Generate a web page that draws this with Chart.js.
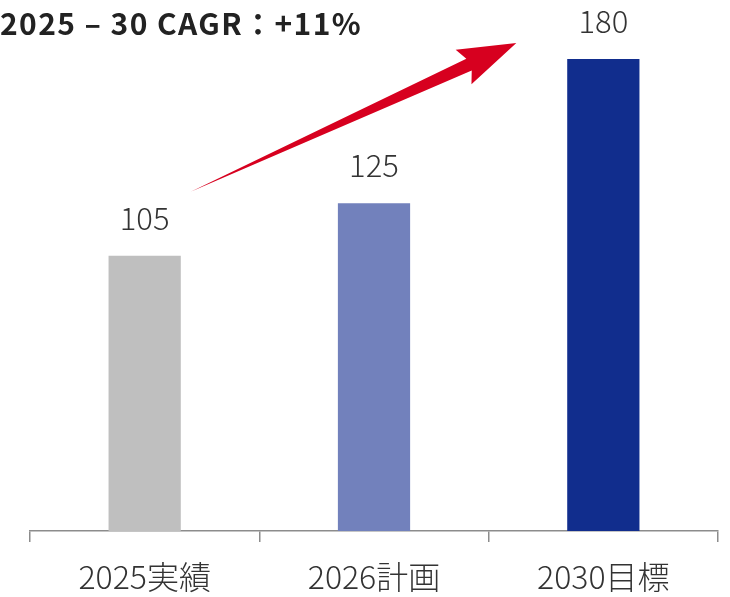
<!DOCTYPE html>
<html>
<head>
<meta charset="utf-8">
<script src="https://cdn.jsdelivr.net/npm/chart.js@4/dist/chart.umd.min.js"></script>
<style>
  html, body { margin: 0; padding: 0; background: #fff; }
  canvas { display: block; }
</style>
</head>
<body>
<canvas id="cagrChart" width="730" height="597"></canvas>
<script>
// data
const categories = ["2025実績", "2026計画", "2030目標"];
const values = [105, 125, 180];
const barColors = ["#BFBFBF", "#7281BC", "#112D8D"];
const titleText = "2025 – 30 CAGR：+11%";

const FONT = "'Noto Sans CJK JP', 'Noto Sans', sans-serif";

// value labels above bars
const valueLabels = {
    id: "valueLabels",
    afterDatasetsDraw(chart) {
        const ctx = chart.ctx;
        const meta = chart.getDatasetMeta(0);
        ctx.save();
        ctx.font = "300 31px " + FONT;
        ctx.fillStyle = "#333333";
        ctx.textAlign = "center";
        ctx.textBaseline = "alphabetic";
        meta.data.forEach((bar, i) => {
            ctx.fillText(String(values[i]), bar.x, bar.y - 26);
        });
        ctx.restore();
    }
};

// tapered red arrow from first to last bar + title text
const cagrArrow = {
    id: "cagrArrow",
    afterDraw(chart) {
        const ctx = chart.ctx;
        const x = chart.scales.x, y = chart.scales.y;
        const x0 = x.getPixelForValue(0) + 46, y0 = y.getPixelForValue(values[0]) - 64;
        const x1 = x.getPixelForValue(2) - 87, y1 = y.getPixelForValue(values[2]) - 16;
        const ang = Math.atan2(y1 - y0, x1 - x0);
        const len = Math.hypot(x1 - x0, y1 - y0);
        const headLen = 52, headHalf = 19, shaftHalf = 6.5;
        ctx.save();
        ctx.translate(x0, y0);
        ctx.rotate(ang);
        ctx.beginPath();
        ctx.moveTo(0, 0);
        ctx.lineTo(len - headLen, -shaftHalf);
        ctx.lineTo(len - headLen - 6, -headHalf);
        ctx.lineTo(len, 0);
        ctx.lineTo(len - headLen - 6, headHalf);
        ctx.lineTo(len - headLen, shaftHalf);
        ctx.closePath();
        ctx.fillStyle = "#D7001F";
        ctx.fill();
        ctx.restore();

        ctx.save();
        ctx.font = "700 30px " + FONT;
        ctx.letterSpacing = "1.4px";
        ctx.fillStyle = "#222222";
        ctx.textAlign = "left";
        ctx.textBaseline = "middle";
        ctx.fillText(titleText, 0, 24);
        ctx.restore();
    }
};

new Chart(document.getElementById("cagrChart"), {
    type: "bar",
    data: {
        labels: categories,
        datasets: [{
            data: values,
            backgroundColor: barColors,
            barPercentage: 0.315,
            categoryPercentage: 1.0
        }]
    },
    options: {
        responsive: false,
        animation: false,
        layout: { padding: { left: 30, right: 12, top: 59, bottom: 0 } },
        plugins: {
            legend: { display: false },
            tooltip: { enabled: false }
        },
        scales: {
            x: {
                afterFit(scale) { scale.height = 66; },
                grid: {
                    offset: true,
                    drawOnChartArea: false,
                    drawTicks: true,
                    tickLength: 11,
                    color: "#8C8C8C",
                    lineWidth: 1.5
                },
                border: { display: true, color: "#8C8C8C", width: 1.5 },
                ticks: {
                    color: "#333333",
                    padding: 16,
                    font: { family: FONT, size: 32, weight: "300" }
                }
            },
            y: {
                display: false,
                min: 0,
                max: 180
            }
        }
    },
    plugins: [valueLabels, cagrArrow]
});
</script>
</body>
</html>
